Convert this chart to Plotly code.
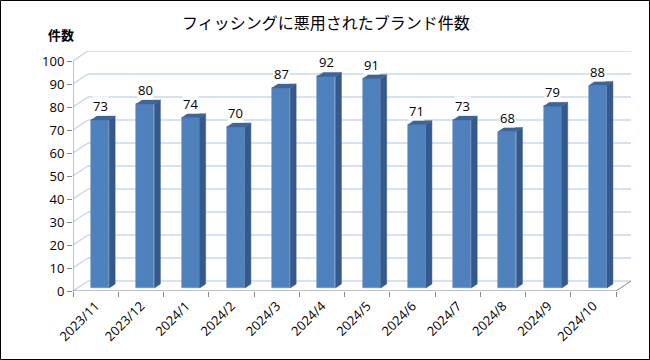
import plotly.graph_objects as go

categories = ["2023/11", "2023/12", "2024/1", "2024/2", "2024/3", "2024/4",
              "2024/5", "2024/6", "2024/7", "2024/8", "2024/9", "2024/10"]
values = [73, 80, 74, 70, 87, 92, 91, 71, 73, 68, 79, 88]
y_ticks = list(range(0, 101, 10))
title = "フィッシングに悪用されたブランド件数"
y_title = "件数"

# 3D-look geometry (in axis units)
n = len(categories)
DX = 0.33      # depth in x (category units)
DY = 4.35      # depth in y (value units)
F = 0.30       # front face of bars sits at this depth fraction
BD = 0.40      # bar depth fraction
BW = 0.40      # bar width

W, H = 650, 360
ML, MR, MT, MB = 73, 19, 51, 69
pw = W - ML - MR
ph = H - MT - MB


def px2paper(px, py):
    return (px - ML) / pw, 1 - (py - MT) / ph


fig = go.Figure()

grid_col = "#c6d9f0"
axis_col = "#868686"

shapes = []
for v in y_ticks:
    shapes.append(dict(type="line", xref="x", yref="y", x0=DX, y0=v + DY, x1=n + DX, y1=v + DY,
                       line=dict(color=grid_col, width=1.5), layer="below"))
    shapes.append(dict(type="line", xref="x", yref="y", x0=0, y0=v, x1=DX, y1=v + DY,
                       line=dict(color=grid_col, width=1.5), layer="below"))
shapes.append(dict(type="line", xref="x", yref="y", x0=0, y0=0, x1=n, y1=0,
                   line=dict(color=axis_col, width=1), layer="below"))
shapes.append(dict(type="line", xref="x", yref="y", x0=n, y0=0, x1=n + DX, y1=DY,
                   line=dict(color=axis_col, width=1), layer="below"))
shapes.append(dict(type="line", xref="x", yref="y", x0=0, y0=0, x1=0, y1=100,
                   line=dict(color=axis_col, width=1), layer="below"))
bx0, by0 = px2paper(0.5, 0.5)
bx1, by1 = px2paper(W - 0.5, H - 0.5)
shapes.append(dict(type="rect", xref="paper", yref="paper", x0=bx0, x1=bx1, y0=by1, y1=by0,
                   line=dict(color="black", width=1), fillcolor="rgba(0,0,0,0)", layer="above"))

fx = F * DX
fy = F * DY
bx = BD * DX
by = BD * DY
centers = [i + 0.5 + fx for i in range(n)]
fig.add_trace(go.Bar(
    x=centers, y=values, base=[fy] * n, width=BW,
    marker=dict(color="#4f81bd", line=dict(color="#6a95c9", width=0.6)),
    hoverinfo="skip", showlegend=False))

sx, sy, tx, ty = [], [], [], []
for c, v in zip(centers, values):
    r = c + BW / 2
    l = c - BW / 2
    top = v + fy
    sx += [r, r + bx, r + bx, r, r, None]
    sy += [fy, fy + by, top + by, top, fy, None]
    tx += [l, l + bx, r + bx, r, l, None]
    ty += [top, top + by, top + by, top, top, None]
fig.add_trace(go.Scatter(x=sx, y=sy, mode="lines", fill="toself", fillcolor="#35598a",
                         line=dict(color="#35598a", width=0.5), hoverinfo="skip", showlegend=False))
fig.add_trace(go.Scatter(x=tx, y=ty, mode="lines", fill="toself", fillcolor="#3c659c",
                         line=dict(color="#3c659c", width=0.5), hoverinfo="skip", showlegend=False))

annotations = []
for c, v in zip(centers, values):
    annotations.append(dict(x=c, y=v + fy, xref="x", yref="y", text=str(v), showarrow=False,
                            yanchor="middle", yshift=14, bgcolor="white", borderpad=0,
                            font=dict(family="Open Sans", size=13, color="black")))
tx_, ty_ = px2paper(326, 22)
annotations.append(dict(x=tx_, y=ty_, xref="paper", yref="paper", text=title,
                        xanchor="center", yanchor="middle",
                        showarrow=False, font=dict(family="Noto Sans CJK JP", size=16, color="black")))
ax_, ay_ = px2paper(61, 34)
annotations.append(dict(x=ax_, y=ay_, xref="paper", yref="paper", text="<b>" + y_title + "</b>",
                        xanchor="center", yanchor="middle",
                        showarrow=False, font=dict(family="Noto Sans CJK JP", size=13, color="black")))

fig.update_layout(
    width=W, height=H,
    margin=dict(l=ML, r=MR, t=MT, b=MB, autoexpand=False),
    paper_bgcolor="white", plot_bgcolor="white",
    shapes=shapes,
    annotations=annotations,
    bargap=0,
    xaxis=dict(range=[0, n + DX], tickmode="array", tickvals=[i + 0.5 for i in range(n)],
               ticktext=categories, tickangle=-45, ticks="", showgrid=False, zeroline=False,
               showline=False, automargin=False, ticklabelstandoff=4,
               tickfont=dict(family="Open Sans", size=13, color="black"),
               minor=dict(tickmode="array", tickvals=list(range(n + 1)), ticks="outside",
                          ticklen=5, tickcolor=axis_col, showgrid=False),
               fixedrange=True),
    yaxis=dict(range=[0, 100 + DY], tickmode="array", tickvals=y_ticks, ticks="outside",
               ticklen=5, tickcolor=axis_col, showgrid=False, zeroline=False, showline=False,
               automargin=False,
               tickfont=dict(family="Open Sans", size=13, color="black"), fixedrange=True),
)

fig.write_html("out.html", post_script="document.body.style.margin='0';",
               config={"displayModeBar": False})
